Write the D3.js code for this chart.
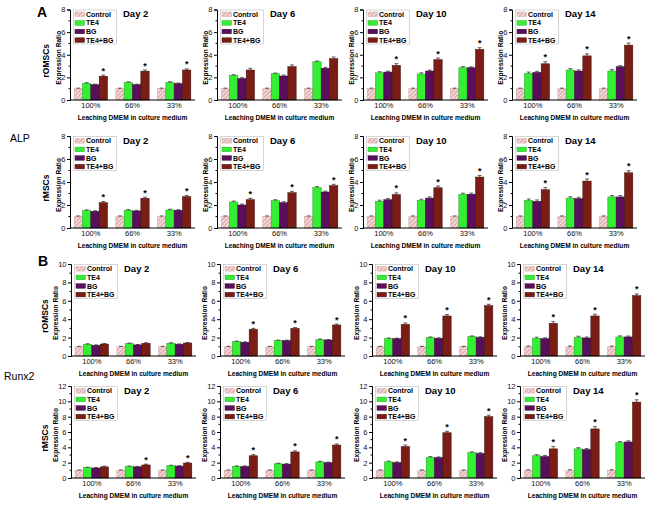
<!DOCTYPE html>
<html><head><meta charset="utf-8">
<script src="https://cdn.jsdelivr.net/npm/d3@7"></script>
<style>body{margin:0;background:#fff}svg{display:block}text{font-family:"Liberation Sans",Arial,sans-serif}</style>
</head><body><svg id="c" width="650" height="505"></svg>
<script>
// ---------- data ----------
const groups = ["100%", "66%", "33%"];
const seriesNames = ["Control", "TE4", "BG", "TE4+BG"];
const days = ["Day 2", "Day 6", "Day 10", "Day 14"];
const cellLines = ["rOMSCs", "rMSCs", "rOMSCs", "rMSCs"];
const yMaxes = [8, 8, 10, 12];

// values[day][group][series]
const alpOMSC = [
  [[1, 1.47, 1.35, 2.10], [1, 1.55, 1.35, 2.55], [1, 1.55, 1.45, 2.65]],
  [[1, 2.18, 1.90, 2.65], [1, 2.32, 2.12, 2.95], [1, 3.38, 2.80, 3.65]],
  [[1, 2.40, 2.47, 3.06], [1, 2.30, 2.56, 3.56], [1, 2.85, 2.85, 4.47]],
  [[1, 2.35, 2.44, 3.20], [1, 2.65, 2.56, 3.90], [1, 2.56, 2.94, 4.85]]
];
const alpMSC = [
  [[1, 1.51, 1.45, 2.20], [1, 1.54, 1.48, 2.58], [1, 1.57, 1.54, 2.72]],
  [[1, 2.26, 2.00, 2.46], [1, 2.38, 2.20, 3.07], [1, 3.52, 3.13, 3.68]],
  [[1, 2.32, 2.46, 2.90], [1, 2.40, 2.60, 3.50], [1, 2.93, 2.93, 4.43]],
  [[1, 2.40, 2.32, 3.33], [1, 2.60, 2.55, 4.08], [1, 2.70, 2.70, 4.80]]
];
const runxOMSC = [
  [[1, 1.27, 1.16, 1.30], [1, 1.34, 1.20, 1.38], [1, 1.38, 1.27, 1.41]],
  [[1, 1.56, 1.49, 2.90], [1, 1.67, 1.67, 3.00], [1, 1.78, 1.74, 3.37]],
  [[1, 1.88, 1.88, 3.44], [1, 1.99, 1.92, 4.35], [1, 2.10, 2.03, 5.47]],
  [[1, 1.92, 1.88, 3.55], [1, 2.03, 1.96, 4.35], [1, 2.07, 2.07, 6.56]]
];
const runxMSC = [
  [[1, 1.35, 1.30, 1.45], [1, 1.50, 1.45, 1.70], [1, 1.60, 1.55, 1.95]],
  [[1, 1.50, 1.50, 2.90], [1, 1.85, 1.80, 3.40], [1, 2.10, 2.00, 4.30]],
  [[1, 2.10, 2.00, 4.10], [1, 2.70, 2.65, 5.90], [1, 3.30, 3.20, 8.00]],
  [[1, 2.90, 2.80, 3.80], [1, 3.80, 3.70, 6.40], [1, 4.60, 4.70, 9.90]]
];

// error (per day, per series)
const alpOMSCErr = [[0.05, 0.06, 0.05, 0.10], [0.05, 0.06, 0.08, 0.15], [0.05, 0.10, 0.08, 0.15], [0.05, 0.12, 0.10, 0.18]];
const alpMSCErr = [[0.05, 0.06, 0.05, 0.10], [0.05, 0.08, 0.08, 0.12], [0.05, 0.10, 0.10, 0.15], [0.05, 0.12, 0.12, 0.18]];
const runxOMSCErr = [[0.05, 0.06, 0.05, 0.06], [0.05, 0.06, 0.05, 0.10], [0.05, 0.08, 0.06, 0.15], [0.08, 0.12, 0.10, 0.18]];
const runxMSCErr = [[0.05, 0.06, 0.06, 0.10], [0.05, 0.08, 0.08, 0.15], [0.05, 0.10, 0.10, 0.20], [0.08, 0.15, 0.15, 0.30]];

// significance star on TE4+BG: [day][group]
const alpOMSCStar = [[1, 1, 1], [0, 0, 0], [1, 1, 1], [1, 1, 1]];
const alpMSCStar = [[1, 1, 1], [1, 1, 1], [1, 1, 1], [1, 1, 1]];
const runxOMSCStar = [[0, 0, 0], [1, 1, 1], [1, 1, 1], [1, 1, 1]];
const runxMSCStar = [[0, 1, 1], [1, 1, 1], [1, 1, 1], [1, 1, 1]];

const rowData = [alpOMSC, alpMSC, runxOMSC, runxMSC];
const rowErr = [alpOMSCErr, alpMSCErr, runxOMSCErr, runxMSCErr];
const rowStar = [alpOMSCStar, alpMSCStar, runxOMSCStar, runxMSCStar];

// ---------- layout ----------
const rows = [
  { top: 9.5, bottom: 100, axes: [70, 217, 363, 512], yt: -11 },
  { top: 136, bottom: 228, axes: [70, 217, 363, 512], yt: -11 },
  { top: 264, bottom: 356, axes: [71, 220, 372, 520], yt: -15.5 },
  { top: 386, bottom: 478, axes: [71, 220, 372, 520], yt: -15.5 }
];
const plotW = 125;
const colors = ["url(#hatch)", "#33ee33", "#5a0f5c", "#7a1d14"];
const strokes = ["#c9a3a3", "#1f9a1f", "#2e052f", "#3d0c08"];
const font = '"Liberation Sans",Arial,sans-serif';

const svg = d3.select("#c");
const defs = svg.append("defs");
const pat = defs.append("pattern").attr("id", "hatch").attr("patternUnits", "userSpaceOnUse")
  .attr("width", 3).attr("height", 3).attr("patternTransform", "rotate(45)");
pat.append("rect").attr("width", 3).attr("height", 3).attr("fill", "#f7dede");
pat.append("rect").attr("width", 1.3).attr("height", 3).attr("fill", "#d9a2a2");

svg.append("rect").attr("width", 650).attr("height", 505).attr("fill", "#fff");

rows.forEach((R, ri) => {
  const yMax = yMaxes[ri];
  R.axes.forEach((ax, ci) => {
    const g = svg.append("g");
    const x0 = d3.scaleBand().domain(groups).range([ax, ax + plotW]).paddingInner(0.2).paddingOuter(0.1);
    const x1 = d3.scaleBand().domain(seriesNames).range([0, x0.bandwidth()]).padding(0);
    const y = d3.scaleLinear().domain([0, yMax]).range([R.bottom, R.top]);
    const vals = rowData[ri][ci];
    const errs = rowErr[ri][ci];
    const stars = rowStar[ri][ci];

    // bars
    groups.forEach((gname, gi) => {
      seriesNames.forEach((s, si) => {
        const v = vals[gi][si];
        const bx = x0(gname) + x1(s);
        g.append("rect").attr("x", bx).attr("y", y(v)).attr("width", x1.bandwidth())
          .attr("height", y(0) - y(v)).attr("fill", colors[si]).attr("stroke", strokes[si]).attr("stroke-width", 0.5);
        const e = errs[si];
        const cx = bx + x1.bandwidth() / 2;
        g.append("line").attr("x1", cx).attr("x2", cx).attr("y1", y(v)).attr("y2", y(v + e)).attr("stroke", "#222").attr("stroke-width", 0.7);
        g.append("line").attr("x1", cx - 2).attr("x2", cx + 2).attr("y1", y(v + e)).attr("y2", y(v + e)).attr("stroke", "#222").attr("stroke-width", 0.7);
        if (si === 3 && stars[gi]) {
          g.append("text").attr("x", cx).attr("y", y(v + e) - 1.5).attr("text-anchor", "middle")
            .attr("font-size", 9).attr("font-weight", "bold").attr("fill", "#000").text("*");
        }
      });
    });

    // y axis
    const ticks = d3.range(0, yMax + 0.01, 2);
    const minor = d3.range(1, yMax, 2);
    const ya = d3.axisLeft(y).tickValues(ticks).tickSize(3).tickPadding(1.5).tickFormat(d3.format("d"));
    const yg = g.append("g").attr("transform", `translate(${ax},0)`).call(ya);
    yg.select(".domain").attr("stroke", "#000").attr("stroke-width", 1);
    yg.selectAll("text").attr("font-size", 7.5).attr("font-family", font).attr("fill", "#111");
    minor.forEach(m => {
      yg.append("line").attr("x1", -1.5).attr("x2", 0).attr("y1", y(m)).attr("y2", y(m)).attr("stroke", "#000");
    });

    // x axis
    const xa = d3.axisBottom(x0).tickSize(0).tickPadding(3);
    const xg = g.append("g").attr("transform", `translate(0,${R.bottom})`).call(xa);
    xg.select(".domain").attr("stroke", "#000").attr("stroke-width", 1).attr("d", `M${ax},0H${ax + plotW}`);
    xg.selectAll("text").attr("font-size", 7.5).attr("font-family", font).attr("fill", "#111");

    // axis titles
    g.append("text").attr("x", ax + plotW / 2).attr("y", R.bottom + 20).attr("text-anchor", "middle")
      .attr("font-size", 6.6).attr("font-weight", "bold").text("Leaching DMEM in culture medium");
    g.append("text").attr("transform", `translate(${ax + R.yt},${(R.top + R.bottom) / 2 + 3}) rotate(-90)`)
      .attr("text-anchor", "middle").attr("dy", "0.35em").attr("font-size", 6.6).attr("font-weight", "bold").text("Expression Ratio");

    // day label
    g.append("text").attr("x", ax + 53).attr("y", R.top + 7.5).attr("font-size", 9.5).attr("font-weight", "bold").text(days[ci]);

    // legend
    const lg = g.append("g");
    lg.append("rect").attr("x", ax + 3.5).attr("y", R.top + 0.5).attr("width", 43).attr("height", 34)
      .attr("fill", "#fff").attr("stroke", "#bbb").attr("stroke-width", 0.6);
    seriesNames.forEach((s, si) => {
      const ly = R.top + 4.8 + si * 8.6;
      lg.append("rect").attr("x", ax + 5).attr("y", ly - 2.3).attr("width", 9.5).attr("height", 4.6)
        .attr("fill", colors[si]).attr("stroke", strokes[si]).attr("stroke-width", 0.4);
      lg.append("text").attr("x", ax + 16).attr("y", ly + 2.5).attr("font-size", 7).attr("font-weight", "bold").text(s);
    });
  });

  // row cell-line label
  svg.append("text").attr("transform", `translate(${ri < 2 ? 46 : 45},${(R.top + R.bottom) / 2 + 6}) rotate(-90)`)
    .attr("text-anchor", "middle").attr("dy", "0.35em").attr("font-size", 8.5).attr("font-weight", "bold").text(cellLines[ri]);
});

// section labels
svg.append("text").attr("x", 37).attr("y", 17).attr("font-size", 14).attr("font-weight", "bold").text("A");
svg.append("text").attr("x", 38).attr("y", 266).attr("font-size", 14).attr("font-weight", "bold").text("B");
svg.append("text").attr("x", 10).attr("y", 142).attr("font-size", 10.5).text("ALP");
svg.append("text").attr("x", 4).attr("y", 380).attr("font-size", 10.5).text("Runx2");
</script></body></html>
